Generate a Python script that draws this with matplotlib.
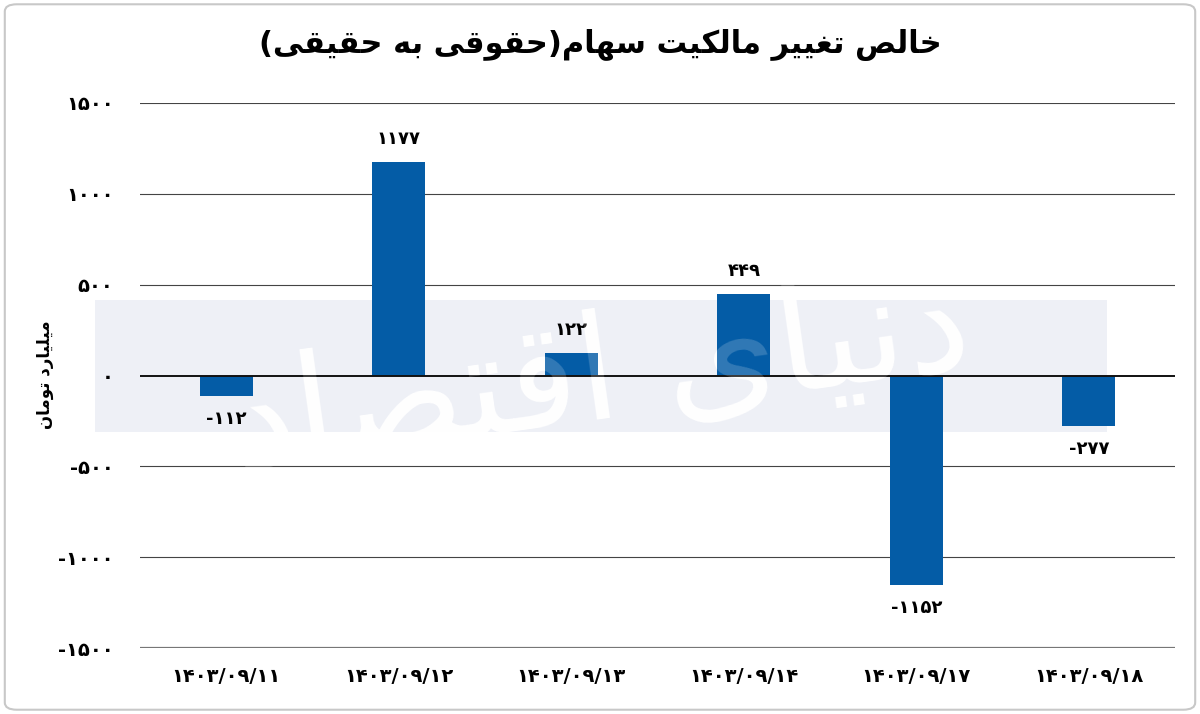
import matplotlib
matplotlib.use("Agg")
import matplotlib.pyplot as plt
from matplotlib.patches import Rectangle, FancyBboxPatch

# --- Data ---
dates = ["۱۴۰۳/۰۹/۱۱", "۱۴۰۳/۰۹/۱۲", "۱۴۰۳/۰۹/۱۳", "۱۴۰۳/۰۹/۱۴", "۱۴۰۳/۰۹/۱۷", "۱۴۰۳/۰۹/۱۸"]
values = [-112, 1177, 122, 449, -1152, -277]
value_labels = ["-۱۱۲", "۱۱۷۷", "۱۲۲", "۴۴۹", "-۱۱۵۲", "-۲۷۷"]
y_ticks = [1500, 1000, 500, 0, -500, -1000, -1500]
y_tick_labels = ["۱۵۰۰", "۱۰۰۰", "۵۰۰", "۰", "-۵۰۰", "-۱۰۰۰", "-۱۵۰۰"]
title = "خالص تغییر مالکیت سهام(حقوقی به حقیقی)"
y_label = "میلیارد تومان"
watermark = "دنیای اقتصاد"

BAR_COLOR = "#045ca6"

# --- minimal Persian shaping (matplotlib has no bidi / joining) ---
# char -> (isolated, final, initial, medial); 2-tuples only join to the right
FORMS = {
    "ا": ("\uFE8D", "\uFE8E"), "د": ("\uFEA9", "\uFEAA"),
    "ر": ("\uFEAD", "\uFEAE"), "و": ("\uFEED", "\uFEEE"),
    "ب": ("\uFE8F", "\uFE90", "\uFE91", "\uFE92"),
    "ت": ("\uFE95", "\uFE96", "\uFE97", "\uFE98"),
    "ح": ("\uFEA1", "\uFEA2", "\uFEA3", "\uFEA4"),
    "خ": ("\uFEA5", "\uFEA6", "\uFEA7", "\uFEA8"),
    "س": ("\uFEB1", "\uFEB2", "\uFEB3", "\uFEB4"),
    "ص": ("\uFEB9", "\uFEBA", "\uFEBB", "\uFEBC"),
    "غ": ("\uFECD", "\uFECE", "\uFECF", "\uFED0"),
    "ق": ("\uFED5", "\uFED6", "\uFED7", "\uFED8"),
    "ل": ("\uFEDD", "\uFEDE", "\uFEDF", "\uFEE0"),
    "م": ("\uFEE1", "\uFEE2", "\uFEE3", "\uFEE4"),
    "ن": ("\uFEE5", "\uFEE6", "\uFEE7", "\uFEE8"),
    "ه": ("\uFEE9", "\uFEEA", "\uFEEB", "\uFEEC"),
    "ک": ("\uFB8E", "\uFB8F", "\uFB90", "\uFB91"),
    "ی": ("\uFBFC", "\uFBFD", "\uFBFE", "\uFBFF"),
}
MIRROR = {"(": ")", ")": "("}


def fa(text):
    out = []
    for i, ch in enumerate(text):
        if ch not in FORMS:
            out.append(MIRROR.get(ch, ch))
            continue
        prev = text[i - 1] if i > 0 else ""
        nxt = text[i + 1] if i + 1 < len(text) else ""
        jp = prev in FORMS and len(FORMS[prev]) == 4
        jn = len(FORMS[ch]) == 4 and nxt in FORMS
        f = FORMS[ch]
        if jp and jn:
            out.append(f[3])
        elif jp:
            out.append(f[1])
        elif jn:
            out.append(f[2])
        else:
            out.append(f[0])
    return "".join(reversed(out))


plt.rcParams["font.family"] = ["DejaVu Sans"]

fig = plt.figure(figsize=(12, 7.14), dpi=100)
fig.patch.set_facecolor("white")

# outer rounded frame
frame = FancyBboxPatch((0.004, 0.006), 0.992, 0.988,
                       boxstyle="round,pad=0,rounding_size=0.01",
                       transform=fig.transFigure, facecolor="none",
                       edgecolor="#c8c8c8", linewidth=1.5, zorder=0.1)
fig.patches.append(frame)
# grey watermark band
band = Rectangle((95 / 1200, 1 - 432 / 714), (1107 - 95) / 1200, 132 / 714,
                 transform=fig.transFigure, facecolor="#eef0f6",
                 edgecolor="none", zorder=0.1)
fig.patches.append(band)

# watermark, solid white (only shows on the band)
fig.text(0.50, 0.47, fa(watermark), fontsize=105, color="white",
         ha="center", va="center", rotation=8, zorder=0.2)

ax = fig.add_axes([140 / 1200, 1 - 648 / 714, (1175 - 140) / 1200, (648 - 103) / 714])
ax.set_facecolor("none")
ax.set_zorder(1)

x = list(range(len(dates)))
ax.bar(x, values, width=0.31, color=BAR_COLOR, zorder=3)

ax.set_xlim(-0.5, len(dates) - 0.5)
ax.set_ylim(-1500, 1500)
for t in y_ticks:
    if t == 0:
        ax.axhline(t, color="#111111", linewidth=1.4, zorder=4)
    elif t == -1500:
        ax.axhline(t, color="#777777", linewidth=1.6, zorder=2)
    else:
        ax.axhline(t, color="#444444", linewidth=0.8, zorder=2)

ax.set_yticks(y_ticks)
ax.set_yticklabels(y_tick_labels, fontsize=14, fontweight="bold")
ax.set_xticks(x)
ax.set_xticklabels(dates, fontsize=14, fontweight="bold")
ax.tick_params(axis="y", length=0, pad=19)
ax.tick_params(axis="x", length=0, pad=14)
for s in ax.spines.values():
    s.set_visible(False)

for xi, v, lab in zip(x, values, value_labels):
    if v >= 0:
        ax.annotate(lab, (xi, v), xytext=(0, 10), textcoords="offset points",
                    ha="center", va="bottom", fontsize=13, fontweight="bold")
    else:
        ax.annotate(lab, (xi, v), xytext=(0, -10), textcoords="offset points",
                    ha="center", va="top", fontsize=13, fontweight="bold")

# faint watermark over the bars
ax.text(0.50, 0.47, fa(watermark), transform=fig.transFigure, fontsize=105,
        color="white", alpha=0.18, ha="center", va="center", rotation=8, zorder=5)

fig.text(0.5, 1 - 45 / 714, fa(title), fontsize=22, fontweight="bold",
         ha="center", va="center")
fig.text(45 / 1200, 1 - 375 / 714, fa(y_label), fontsize=12, fontweight="bold",
         rotation=90, ha="center", va="center")

fig.savefig("out.png", dpi=100)
